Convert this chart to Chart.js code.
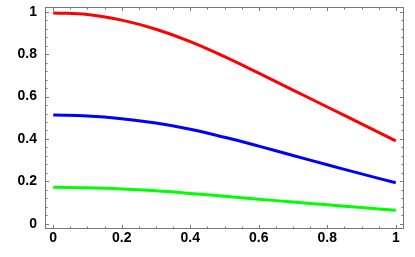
<!DOCTYPE html>
<html>
<head>
<meta charset="utf-8">
<script src="https://cdn.jsdelivr.net/npm/chart.js@4"></script>
<style>
  html, body { margin: 0; padding: 0; background: #fff; }
  #wrap { width: 415px; height: 257px; }
</style>
</head>
<body>
<div id="wrap"><canvas id="plot"></canvas></div>
<script>
// x samples and the three curves
const xs    = [0, 0.1, 0.2, 0.3, 0.4, 0.5, 0.6, 0.7, 0.8, 0.9, 1];
const red   = [0.995, 0.988, 0.961, 0.918, 0.860, 0.789, 0.711, 0.631, 0.551, 0.471, 0.391];
const blue  = [0.513, 0.509, 0.496, 0.475, 0.446, 0.408, 0.366, 0.322, 0.278, 0.235, 0.193];
const green = [0.172, 0.170, 0.164, 0.155, 0.143, 0.130, 0.116, 0.102, 0.089, 0.076, 0.064];

const xTicks = [0, 0.2, 0.4, 0.6, 0.8, 1];
const yTicks = [0, 0.2, 0.4, 0.6, 0.8, 1];
const xMinorStep = 0.05;
const yMinorStep = 0.04;

const FRAME = '#777';
const pts = arr => xs.map((x, i) => ({ x, y: arr[i] }));

function minorVals(step, max) {
  const out = [];
  for (let v = 0; v <= max + 1e-9; v += step) out.push(+v.toFixed(4));
  return out;
}

// Mathematica-style frame with inward ticks on all four sides
const framePlugin = {
  id: 'frame',
  afterDraw(chart) {
    const { ctx, chartArea: a, scales: { x, y } } = chart;
    ctx.save();
    ctx.strokeStyle = FRAME;
    ctx.lineWidth = 1;
    ctx.strokeRect(a.left + 0.5, a.top + 0.5, a.right - a.left - 1, a.bottom - a.top - 1);
    ctx.beginPath();
    minorVals(xMinorStep, 1).forEach(v => {
      const px = Math.round(x.getPixelForValue(v)) + 0.5;
      const len = xTicks.some(t => Math.abs(t - v) < 1e-6) ? 4 : 2.5;
      ctx.moveTo(px, a.bottom); ctx.lineTo(px, a.bottom - len);
      ctx.moveTo(px, a.top);    ctx.lineTo(px, a.top + len);
    });
    minorVals(yMinorStep, 1).forEach(v => {
      const py = Math.round(y.getPixelForValue(v)) + 0.5;
      const len = yTicks.some(t => Math.abs(t - v) < 1e-6) ? 4 : 2.5;
      ctx.moveTo(a.left, py);  ctx.lineTo(a.left + len, py);
      ctx.moveTo(a.right, py); ctx.lineTo(a.right - len, py);
    });
    ctx.stroke();
    ctx.restore();
  }
};

const line = (data, color) => ({
  data,
  borderColor: color,
  borderWidth: 3,
  pointRadius: 0,
  fill: false,
  tension: 0.4
});

new Chart(document.getElementById('plot'), {
  type: 'line',
  data: {
    datasets: [line(pts(red), '#ff0000'), line(pts(blue), '#0000ff'), line(pts(green), '#00ff00')]
  },
  options: {
    responsive: true,
    maintainAspectRatio: false,
    animation: false,
    events: [],
    layout: { padding: { top: 7, right: 11, left: 0, bottom: 0 } },
    plugins: { legend: { display: false }, tooltip: { enabled: false } },
    scales: {
      x: {
        type: 'linear',
        min: -0.024,
        max: 1.024,
        border: { display: false },
        grid: { display: false, drawTicks: false },
        afterBuildTicks: s => { s.ticks = xTicks.map(v => ({ value: v })); },
        afterFit: s => { s.height = 28; s.paddingLeft = 0; s.paddingRight = 0; },
        ticks: {
          padding: 1,
          maxRotation: 0,
          autoSkip: false,
          color: '#000',
          font: { family: 'Liberation Sans', size: 14, weight: 'bold' },
          callback: v => String(v)
        }
      },
      y: {
        type: 'linear',
        min: -0.025,
        max: 1.023,
        border: { display: false },
        grid: { display: false, drawTicks: false },
        afterBuildTicks: s => { s.ticks = yTicks.map(v => ({ value: v })); },
        afterFit: s => { s.width = 45; s.paddingTop = 0; s.paddingBottom = 0; },
        ticks: {
          padding: 8,
          autoSkip: false,
          color: '#000',
          font: { family: 'Liberation Sans', size: 14, weight: 'bold' },
          callback: v => String(v)
        }
      }
    }
  },
  plugins: [framePlugin]
});
</script>
</body>
</html>
